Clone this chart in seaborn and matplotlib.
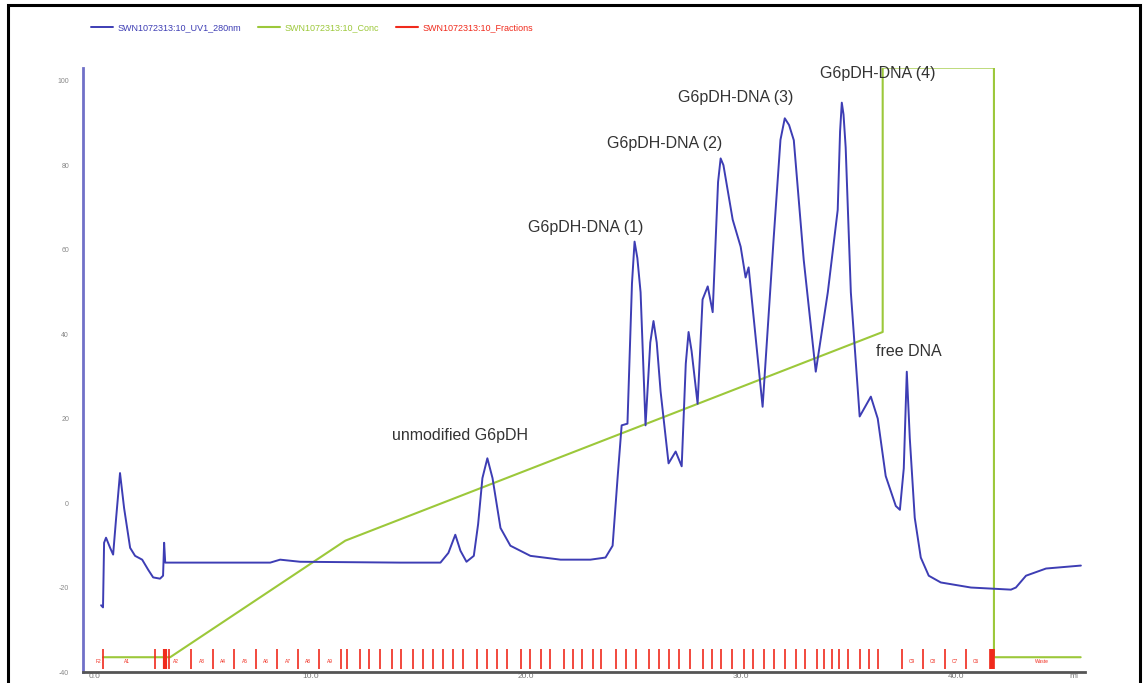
import numpy as np
import pandas as pd
import matplotlib
matplotlib.use("Agg")
import matplotlib.pyplot as plt
import seaborn as sns
from matplotlib.patches import Rectangle

sns.set_style("white")
plt.rcParams['font.family'] = ['Liberation Sans', 'DejaVu Sans']

# ---------------- data ----------------
# UV 280 nm trace: volume (ml) / absorbance (mAU)
uv_ml = [0.28, 0.37, 0.42, 0.51, 0.70, 0.84, 0.98, 1.16, 1.35, 1.63, 1.86, 2.19,
         2.47, 2.70, 3.02, 3.16, 3.21, 3.26, 4.88, 8.14, 8.60, 9.53, 14.19, 16.05,
         16.42, 16.74, 16.98, 17.26, 17.60, 17.80, 18.00, 18.23, 18.47, 18.84, 19.30,
         20.23, 21.63, 23.02, 23.72, 24.05, 24.28, 24.47, 24.74, 24.95, 25.07,
         25.20, 25.35, 25.58, 25.80, 25.95, 26.10, 26.28, 26.65, 26.98, 27.26,
         27.45, 27.58, 27.72, 28.00, 28.23, 28.47, 28.70, 28.95, 29.07, 29.20,
         29.63, 30.00, 30.23, 30.37, 31.02, 31.53, 31.85, 32.05, 32.25, 32.47,
         32.93, 33.49, 34.05, 34.51, 34.62, 34.70, 34.78, 34.88, 35.12, 35.53,
         36.05, 36.37, 36.74, 37.21, 37.40, 37.58, 37.72, 37.86, 38.09, 38.37,
         38.74, 39.30, 40.70, 42.56, 42.79, 43.26, 44.19, 45.81]
uv_mau = [-24.2, -24.7, -9.4, -8.2, -10.6, -12.2, -3.5, 7.1, -1.2, -10.6, -12.5, -13.4,
          -15.8, -17.6, -17.9, -17.2, -9.4, -14.1, -14.1, -14.1, -13.4, -13.9, -14.1, -14.1,
          -11.8, -7.5, -11.3, -13.9, -12.5, -5.0, 5.9, 10.6, 5.9, -5.9, -10.1,
          -12.5, -13.4, -13.4, -12.9, -10.1, 5.9, 18.4, 18.8, 52.0, 61.9,
          58.0, 49.9, 18.4, 38.0, 43.1, 38.0, 26.4, 9.4, 12.2, 8.7,
          33.0, 40.5, 36.0, 23.5, 48.2, 51.3, 45.2, 76.0, 81.6, 80.0,
          67.1, 60.7, 53.4, 55.8, 22.8, 62.4, 86.0, 91.1, 89.5, 85.9,
          57.6, 31.1, 49.9, 69.4, 88.0, 94.8, 92.0, 84.2, 49.9, 20.5,
          25.2, 20.0, 6.4, -0.7, -1.6, 8.2, 31.1, 15.3, -3.5, -12.9,
          -17.2, -18.8, -20.0, -20.5, -20.0, -17.2, -15.5, -14.8]

# gradient (%B)
conc_ml = [0.37, 3.49, 11.63, 36.60, 36.60, 41.77, 41.77, 45.80]
conc_pct = [-36.5, -36.5, -8.9, 40.5, 103.1, 103.1, -36.5, -36.5]

# fraction boundaries (ml)
frac_ml = [0.36, 2.79, 3.30, 3.44, 4.47, 5.49, 6.47, 7.49, 8.47, 9.44, 10.42, 11.44,
           11.72, 12.33, 12.74, 13.26, 13.81, 14.23, 14.79, 15.26, 15.72, 16.19, 16.65,
           17.12, 17.77, 18.23, 18.70, 19.16, 19.77, 20.23, 20.74, 21.16, 21.77, 22.23,
           22.65, 23.12, 23.53, 24.19, 24.65, 25.12, 25.72, 26.19, 26.65, 27.12, 27.63,
           28.23, 28.65, 29.07, 29.58, 30.14, 30.56, 31.07, 31.53, 32.05, 32.56, 32.98,
           33.53, 33.86, 34.23, 34.56, 34.98, 35.53, 35.95, 36.37, 37.49, 38.47, 39.49,
           40.47, 41.58, 41.77]
frac_label_ml = [0.15, 1.50, 3.75, 4.95, 5.95, 6.95, 7.95, 8.95, 9.90, 10.90,
                 37.95, 38.95, 39.95, 40.95, 44.0]
frac_labels = ["F2", "A1", "A2", "A3", "A4", "A5", "A6", "A7", "A8", "A9",
               "C9", "C8", "C7", "C6", "Waste"]

# peak annotations
peak_names = ["unmodified G6pDH", "G6pDH-DNA (1)", "G6pDH-DNA (2)",
              "G6pDH-DNA (3)", "G6pDH-DNA (4)", "free DNA"]
peak_x = [16.98, 22.79, 26.47, 29.77, 36.37, 37.81]
peak_y = [16.0, 65.2, 85.2, 96.0, 101.6, 35.8]

series_names = ["SWN1072313:10_UV1_280nm", "SWN1072313:10_Conc", "SWN1072313:10_Fractions"]
y_ticks = [-40, -20, 0, 20, 40, 60, 80, 100]
x_ticks = [0, 10, 20, 30, 40]
x_ticklabels = ["0.0", "10.0", "20.0", "30.0", "40.0"]

UV_C = "#3d3db4"
CONC_C = "#9cc83a"
FRAC_C = "#f02a1c"

uv = pd.DataFrame({"ml": uv_ml, "mAU": uv_mau})
conc = pd.DataFrame({"ml": conc_ml, "pct": conc_pct})

# ---------------- figure ----------------
fig = plt.figure(figsize=(11.48, 6.83), dpi=100)
ax = fig.add_axes([0.0723, 0.0161, 0.8728, 0.8843])

sns.lineplot(data=conc, x="ml", y="pct", ax=ax, color=CONC_C, lw=1.5,
             estimator=None, sort=False, label=series_names[1])
ax.vlines(frac_ml, -39.3, -34.5, color=FRAC_C, lw=1.2)
ax.plot([], [], color=FRAC_C, lw=1.5, label=series_names[2])
sns.lineplot(data=uv, x="ml", y="mAU", ax=ax, color=UV_C, lw=1.4,
             estimator=None, sort=False, label=series_names[0])
ax.vlines([3.26, 41.70], -39.3, -34.5, color=FRAC_C, lw=3)

for lx, lt in zip(frac_label_ml, frac_labels):
    ax.text(lx, -37.5, lt, color=FRAC_C, fontsize=3.5, ha="center", va="center")

for nm, px, py in zip(peak_names, peak_x, peak_y):
    ax.text(px, py, nm, fontsize=11.5, color="#333333", ha="center", va="center")

ax.set_xlim(-0.56, 46.0)
ax.set_ylim(-39.3, 103.0)
ax.set_yticks(y_ticks)
ax.set_yticklabels([str(v) for v in y_ticks], fontsize=5, color="#888888")
ax.set_xticks(x_ticks + [45.5])
ax.set_xticklabels(x_ticklabels + ["ml"], fontsize=6, color="#777777")
ax.tick_params(axis="y", length=2, width=0.6, color="#aaaaaa", pad=8)
ax.tick_params(axis="x", length=0, pad=1)
ax.set_xlabel("")
ax.set_ylabel("")
for s in ["top", "right"]:
    ax.spines[s].set_visible(False)
ax.spines["left"].set_color("#7070c8")
ax.spines["left"].set_linewidth(2)
ax.spines["bottom"].set_color("#555555")
ax.spines["bottom"].set_linewidth(2)

# legend order: UV, Conc, Fractions
h, l = ax.get_legend_handles_labels()
order = [l.index(n) for n in series_names]
leg = fig.legend([h[i] for i in order], [l[i] for i in order], loc="center left",
                 bbox_to_anchor=(0.072, 0.96), ncol=3, frameon=False, fontsize=6.5,
                 handlelength=2.5, columnspacing=1.8, handletextpad=0.5)
for t, c in zip(leg.get_texts(), [UV_C, CONC_C, FRAC_C]):
    t.set_color(c)
if ax.legend_:
    ax.legend_.remove()

# outer frame
fig.patches.append(Rectangle((0.007, -0.01), 0.986, 1.003, transform=fig.transFigure,
                             fill=False, edgecolor="black", lw=2.2))

fig.savefig("out.png", dpi=100)
